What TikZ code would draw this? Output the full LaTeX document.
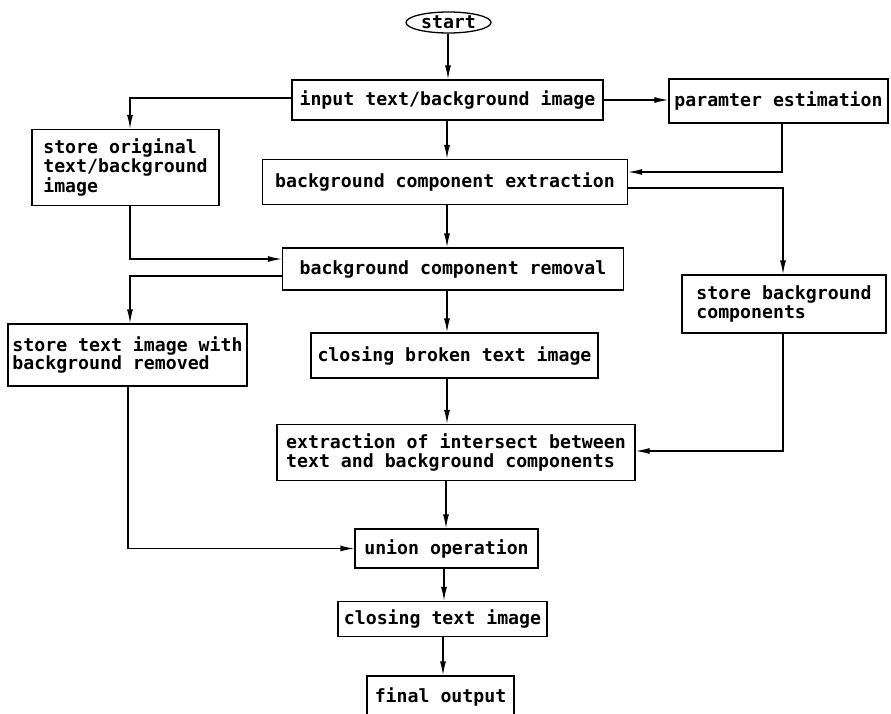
\documentclass[tikz,border=0pt]{standalone}
\usepackage{fontspec}
\setmonofont{DejaVu Sans Mono}
\usetikzlibrary{arrows.meta,shapes.geometric}
\begin{document}
\begin{tikzpicture}[x=1pt,y=-1pt,
  box/.style={draw,line width=1.3pt,inner sep=0pt,align=left,
    font=\ttfamily\bfseries\fontsize{18.2}{18.5}\selectfont},
  arr/.style={line width=1.3pt,-{Latex[length=14pt,width=6pt]}},
]
\clip (0,0) rectangle (891,714);
\fill[white] (0,0) rectangle (891,714);
\node[box,ellipse,minimum width=85pt,minimum height=21pt] (start) at (448.5,22.5) {start};
\node[box,minimum width=311pt,minimum height=40pt] (in) at (447.5,100) {input text/background image};
\node[box,minimum width=219pt,minimum height=44pt] (par) at (778.5,101) {paramter estimation};
\node[box,minimum width=187pt,minimum height=76pt] (so) at (125.5,167.5) {store original\\text/background\\image};
\node[box,minimum width=365pt,minimum height=45pt] (bce) at (445,182) {background component extraction};
\node[box,minimum width=341pt,minimum height=42pt] (bcr) at (453,269) {background component removal};
\node[box,minimum width=204pt,minimum height=58pt] (sbc) at (784,304) {store background\\components};
\node[box,minimum width=239pt,minimum height=62pt] (st) at (127.5,355) {store text image with\\background removed};
\node[box,minimum width=287pt,minimum height=45pt] (cb) at (454.5,355.5) {closing broken text image};
\node[box,minimum width=358pt,minimum height=56pt] (ei) at (456,452.5) {extraction of intersect between\\text and background components};
\node[box,minimum width=183pt,minimum height=39pt] (un) at (446.5,548.5) {union operation};
\node[box,minimum width=209pt,minimum height=35pt] (ct) at (442.5,619) {closing text image};
\node[box,minimum width=147pt,minimum height=42pt] (fo) at (440.5,697) {final output};
\coordinate (mxa) at (448,0);
\coordinate (mxb) at (447,0);
\coordinate (mxc) at (446,0);
\coordinate (mxd) at (444,0);
\coordinate (mxe) at (443,0);
\draw[arr] (start.south -| mxa) -- (in.north -| mxa);
\draw[arr] (in.south -| mxb) -- (bce.north -| mxb);
\draw[arr] (bce.south -| mxb) -- (bcr.north -| mxb);
\draw[arr] (bcr.south -| mxb) -- (cb.north -| mxb);
\draw[arr] (cb.south -| mxb) -- (ei.north -| mxb);
\draw[arr] (ei.south -| mxc) -- (un.north -| mxc);
\draw[arr] (un.south -| mxd) -- (ct.north -| mxd);
\draw[arr] (ct.south -| mxe) -- (fo.north -| mxe);
\draw[arr] (in.east) -- (par.west |- in.east);
\draw[arr] ([yshift=2pt]in.west) -| ([xshift=4.5pt]so.north);
\draw[arr] ([xshift=3.5pt]par.south) |- ([yshift=10pt]bce.east);
\draw[arr] ([yshift=-6pt]bce.east) -| ([xshift=-1pt]sbc.north);
\draw[arr] ([xshift=4.5pt]so.south) |- ([yshift=10pt]bcr.west);
\draw[arr] ([yshift=-7pt]bcr.west) -| ([xshift=2.5pt]st.north);
\draw[arr] ([xshift=-1pt]sbc.south) |- ([yshift=1.5pt]ei.east);
\draw[arr] ([xshift=0.5pt]st.south) |- (un.west);
\end{tikzpicture}
\end{document}
